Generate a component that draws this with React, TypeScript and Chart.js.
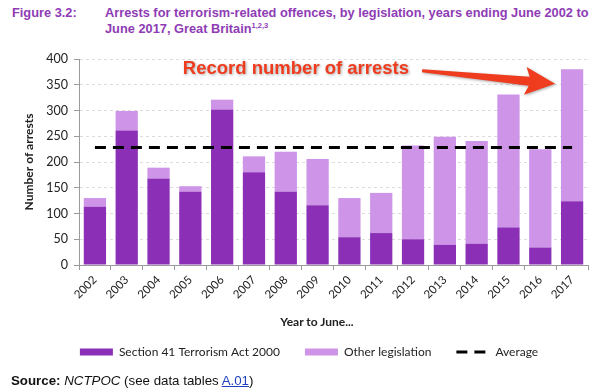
import React, { useEffect, useRef } from "react";
import { Chart, registerables } from "chart.js";

Chart.register(...registerables);

const years = ["2002", "2003", "2004", "2005", "2006", "2007", "2008", "2009", "2010", "2011", "2012", "2013", "2014", "2015", "2016", "2017"];
const section41 = [113, 261, 168, 142, 302, 180, 142, 116, 54, 62, 50, 39, 41, 73, 34, 124];
const otherLegislation = [17, 38, 21, 11, 19, 31, 78, 90, 76, 78, 182, 210, 200, 258, 191, 256];
const averageArrests = [228, 228, 228, 228, 228, 228, 228, 228, 228, 228, 228, 228, 228, 228, 228, 228];
const yTicks = [0, 50, 100, 150, 200, 250, 300, 350, 400];

const PURPLE_DARK = "#8b2fb6";
const PURPLE_LIGHT = "#cd94e8";
const TITLE_PURPLE = "#8f3bb5";
const UI_FONT = "Lato, 'Open Sans', sans-serif";
const HEAD_FONT = "'Liberation Sans', Arial, Helvetica, sans-serif";
const AVG_DASH = [11, 7];

const annotationPlugin = {
  id: "recordAnnotation",
  afterDatasetsDraw(chart: any) {
    const { ctx, scales } = chart;
    const x = scales.x;
    const y = scales.y;
    ctx.save();
    const text = "Record number of arrests";
    ctx.font = `bold 18.5px ${HEAD_FONT}`;
    const tx = x.getPixelForValue(6) + (x.getPixelForValue(7) - x.getPixelForValue(6)) * 0.32;
    const ty = y.getPixelForValue(381);
    ctx.textAlign = "center";
    ctx.textBaseline = "middle";
    ctx.shadowColor = "rgba(0,0,0,0.35)";
    ctx.shadowBlur = 3;
    ctx.shadowOffsetX = 1;
    ctx.shadowOffsetY = 1;
    ctx.fillStyle = "#ef3b1e";
    ctx.fillText(text, tx, ty);
    const tw = ctx.measureText(text).width;
    const x0 = tx + tw / 2 + 13;
    const y0 = ty + 2;
    const x1 = x.getPixelForValue(15) - 17;
    const y1 = y.getPixelForValue(352);
    const ang = Math.atan2(y1 - y0, x1 - x0);
    const len = Math.hypot(x1 - x0, y1 - y0);
    ctx.translate(x0, y0);
    ctx.rotate(ang);
    const headL = 28;
    const headW = 14;
    ctx.beginPath();
    ctx.moveTo(0, -1.5);
    ctx.lineTo(len - headL + 2, -4.5);
    ctx.lineTo(len - headL - 2, -headW);
    ctx.lineTo(len, 0);
    ctx.lineTo(len - headL - 2, headW);
    ctx.lineTo(len - headL + 2, 4.5);
    ctx.lineTo(0, 1.5);
    ctx.closePath();
    ctx.fill();
    ctx.restore();
  },
};

export default function App() {
  const canvasRef = useRef<HTMLCanvasElement | null>(null);

  useEffect(() => {
    const canvas = canvasRef.current;
    if (!canvas) return;
    const chart = new Chart(canvas, {
      type: "bar",
      data: {
        labels: years,
        datasets: [
          {
            type: "bar",
            label: "Section 41 Terrorism Act 2000",
            data: section41,
            backgroundColor: PURPLE_DARK,
            stack: "arrests",
            order: 1,
            pointStyle: "rect",
            barPercentage: 0.7,
            categoryPercentage: 1,
          } as any,
          {
            type: "bar",
            label: "Other legislation",
            data: otherLegislation,
            backgroundColor: PURPLE_LIGHT,
            stack: "arrests",
            order: 1,
            pointStyle: "rect",
            barPercentage: 0.7,
            categoryPercentage: 1,
          } as any,
          {
            type: "line",
            label: "Average",
            data: averageArrests,
            borderColor: "#000",
            backgroundColor: "#000",
            borderWidth: 3,
            borderDash: AVG_DASH,
            pointRadius: 0,
            pointStyle: "line",
            fill: false,
            stack: "avg",
            order: 0,
          } as any,
        ],
      },
      options: {
        animation: false,
        responsive: false,
        maintainAspectRatio: false,
        layout: { padding: { top: 59, left: 30, right: 17, bottom: 24 } },
        plugins: {
          legend: {
            position: "bottom",
            labels: {
              usePointStyle: true,
              pointStyleWidth: 33,
              boxHeight: 7,
              padding: 25,
              color: "#222",
              font: { family: UI_FONT, size: 12 },
              sort: (a: any, b: any) => a.datasetIndex - b.datasetIndex,
              generateLabels: (c: any) => {
                const items = (Chart as any).defaults.plugins.legend.labels.generateLabels(c);
                items.forEach((it: any) => {
                  if (it.pointStyle === "line") {
                    it.lineDash = AVG_DASH;
                    it.lineWidth = 3;
                    it.strokeStyle = "#000";
                    it.lineCap = "butt";
                  }
                });
                return items;
              },
            },
          },
          tooltip: { enabled: false },
        },
        scales: {
          x: {
            stacked: true,
            offset: true,
            grid: { display: true, drawOnChartArea: false, drawTicks: true, tickLength: 5, color: "#9a9a9a", offset: true },
            border: { color: "#9a9a9a" },
            ticks: { autoSkip: false, minRotation: 45, maxRotation: 45, color: "#222", padding: 3, font: { family: UI_FONT, size: 11.5 } },
            afterFit: (s: any) => {
              s.height = 56;
            },
          },
          y: {
            stacked: true,
            min: 0,
            max: 400,
            afterBuildTicks: (s: any) => {
              s.ticks = yTicks.map((v) => ({ value: v }));
            },
            ticks: { color: "#222", padding: 6, font: { family: UI_FONT, size: 12.5 } },
            grid: { color: "#dcdcdc", tickColor: "#9a9a9a", tickLength: 5, tickBorderDash: [] } as any,
            border: { color: "#9a9a9a", dash: [3, 3] },
            title: {
              display: true,
              text: "Number of arrests",
              color: "#222",
              font: { family: UI_FONT, size: 12, weight: "bold" },
              padding: { top: -8, bottom: 0 },
            },
            afterFit: (s: any) => {
              s.width = 49;
            },
          },
        },
      } as any,
      plugins: [annotationPlugin],
    });
    return () => chart.destroy();
  }, []);

  return (
    <div style={{ position: "fixed", left: 0, top: 0, width: 605, height: 392, background: "#fff", overflow: "hidden" }}>
      <div style={{ position: "absolute", left: 12, top: 5, font: `bold 12.8px ${HEAD_FONT}`, color: TITLE_PURPLE, lineHeight: "16px" }}>
        Figure 3.2:
      </div>
      <div style={{ position: "absolute", left: 105, top: 5, font: `bold 12.8px ${HEAD_FONT}`, color: TITLE_PURPLE, lineHeight: "16px", whiteSpace: "nowrap" }}>
        Arrests for terrorism-related offences, by legislation, years ending June 2002 to
        <br />
        June 2017, Great Britain<sup style={{ fontSize: 7.5, verticalAlign: "top", lineHeight: "10px" }}>1,2,3</sup>
      </div>
      <canvas ref={canvasRef} width={605} height={392} style={{ position: "absolute", left: 0, top: 0, width: 605, height: 392 }} />
      <div style={{ position: "absolute", left: 217, width: 200, top: 314, textAlign: "center", font: `bold 12px ${UI_FONT}`, color: "#222" }}>
        Year to June...
      </div>
      <div style={{ position: "absolute", left: 11, top: 373, font: `13.3px ${HEAD_FONT}`, color: "#111", whiteSpace: "nowrap" }}>
        <b>Source:</b> <i>NCTPOC</i> (see data tables <span style={{ color: "#1f3fbf", textDecoration: "underline" }}>A.01</span>)
      </div>
    </div>
  );
}
